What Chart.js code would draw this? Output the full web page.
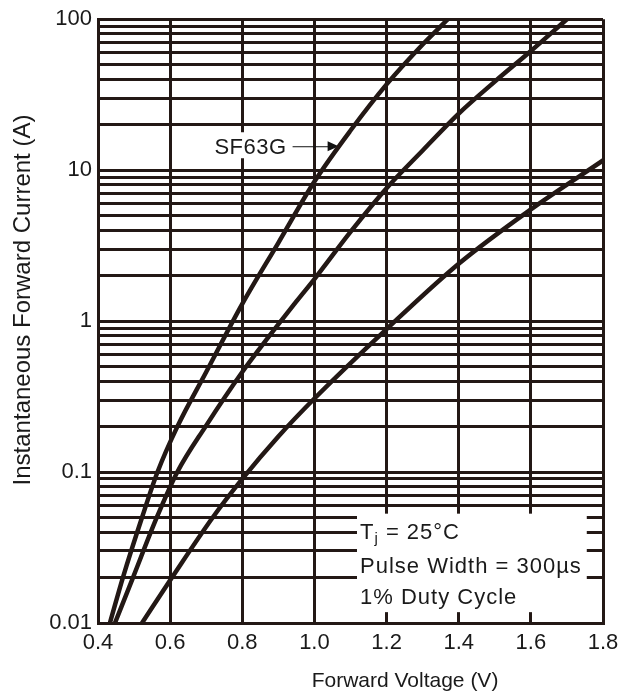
<!DOCTYPE html>
<html>
<head>
<meta charset="utf-8">
<script src="https://cdn.jsdelivr.net/npm/chart.js@4/dist/chart.umd.min.js"></script>
<style>
  html, body { margin: 0; padding: 0; background: #fff; }
  #wrap { width: 632px; height: 696px; }
</style>
</head>
<body>
<div id="wrap"><canvas id="vf-chart" width="632" height="696"></canvas></div>
<script>
// forward voltage (V) / instantaneous forward current (A)
var sf63gV = [0.433, 0.469, 0.522, 0.565, 0.620, 0.70, 0.80, 0.90, 1.00, 1.10, 1.20, 1.30, 1.37];
var sf63gI = [0.01, 0.02, 0.05, 0.1, 0.2, 0.46, 1.3, 3.3, 8.4, 18.3, 37, 68, 100];

var midV = [0.447, 0.497, 0.563, 0.620, 0.698, 0.80, 0.95, 1.00, 1.10, 1.20, 1.30, 1.40, 1.50, 1.60, 1.70];
var midI = [0.01, 0.02, 0.05, 0.1, 0.2, 0.46, 1.35, 1.9, 3.9, 7.6, 13.5, 23.7, 38.6, 61.6, 100];

var rightV = [0.522, 0.605, 0.718, 0.80, 0.90, 1.00, 1.20, 1.40, 1.60, 1.80];
var rightI = [0.01, 0.02, 0.05, 0.09, 0.172, 0.307, 0.885, 2.4, 5.5, 11.6];

var xTicks = [0.4, 0.6, 0.8, 1.0, 1.2, 1.4, 1.6, 1.8];
var xTickLabels = ['0.4', '0.6', '0.8', '1.0', '1.2', '1.4', '1.6', '1.8'];
var yDecades = [0.01, 0.1, 1, 10, 100];
var yTickLabels = ['0.01', '0.1', '1', '10', '100'];
var gridSteps = [1, 2, 3, 4, 5, 6, 7, 8, 9];

var ink = '#231815';
var fontFamily = '"Liberation Sans", Arial, Helvetica, sans-serif';

function toPoints(vs, is) {
    return vs.map(function (v, i) { return { x: v, y: is[i] }; });
}

// every 1..9 step of each decade gets a grid line
var yGrid = [];
yDecades.slice(0, -1).forEach(function (d) {
    gridSteps.forEach(function (s) { yGrid.push(+(d * s).toPrecision(3)); });
});
yGrid.push(yDecades[yDecades.length - 1]);

function curve(vs, is) {
    return {
        data: toPoints(vs, is),
        borderColor: ink,
        borderWidth: 4.5,
        pointRadius: 0,
        fill: false,
        cubicInterpolationMode: 'monotone',
        borderCapStyle: 'round'
    };
}

var notes = {
    id: 'notes',
    beforeDatasetsDraw: function (chart) {
        var ctx = chart.ctx, x = chart.scales.x, y = chart.scales.y;
        // test condition box, bottom right
        var l = x.getPixelForValue(1.118), r = x.getPixelForValue(1.755);
        var t = y.getPixelForValue(0.053), b = y.getPixelForValue(0.0118);
        ctx.save();
        ctx.fillStyle = '#fff';
        ctx.fillRect(l, t, r - l, b - t);
        ctx.fillStyle = '#1a1a1a';
        ctx.textAlign = 'left';
        ctx.textBaseline = 'middle';
        ctx.letterSpacing = '1px';
        ctx.font = '22px ' + fontFamily;
        var tx = l + 3;
        ctx.fillText('T', tx, t + 19);
        tx += ctx.measureText('T').width;
        ctx.font = '15px ' + fontFamily;
        ctx.fillText('j', tx, t + 25);
        tx += ctx.measureText('j').width;
        ctx.font = '22px ' + fontFamily;
        ctx.fillText(' = 25°C', tx, t + 19);
        ctx.fillText('Pulse Width = 300µs', l + 3, t + 53);
        ctx.fillText('1% Duty Cycle', l + 3, t + 84);

        // SF63G pointer
        var ax = x.getPixelForValue(1.067), ay = y.getPixelForValue(14.4);
        ctx.font = '22px ' + fontFamily;
        ctx.letterSpacing = '0.5px';
        var w = ctx.measureText('SF63G').width;
        ctx.fillStyle = '#fff';
        ctx.fillRect(ax - 56 - w, ay - 14, w + 6, 26);
        ctx.fillStyle = '#1a1a1a';
        ctx.textAlign = 'right';
        ctx.fillText('SF63G', ax - 52, ay + 2);
        ctx.strokeStyle = '#111';
        ctx.lineWidth = 1;
        ctx.beginPath();
        ctx.moveTo(ax - 46, ay + 0.5);
        ctx.lineTo(ax - 8, ay + 0.5);
        ctx.stroke();
        ctx.beginPath();
        ctx.moveTo(ax, ay);
        ctx.lineTo(ax - 11, ay - 5);
        ctx.lineTo(ax - 11, ay + 5);
        ctx.closePath();
        ctx.fillStyle = '#111';
        ctx.fill();
        ctx.restore();
    },
    afterDraw: function (chart) {
        var ctx = chart.ctx;
        ctx.save();
        ctx.fillStyle = '#1a1a1a';
        ctx.textAlign = 'center';
        ctx.textBaseline = 'middle';
        ctx.font = '21px ' + fontFamily;
        ctx.fillText('Forward Voltage (V)', 405, 681);
        ctx.translate(23, 300);
        ctx.rotate(-Math.PI / 2);
        ctx.font = '24px ' + fontFamily;
        ctx.fillText('Instantaneous Forward Current (A)', 0, 0);
        ctx.restore();
    }
};

var vfContext = document.getElementById('vf-chart').getContext('2d');
var vfChart = new Chart(vfContext, {
    type: 'line',
    data: {
        datasets: [
            curve(sf63gV, sf63gI),
            curve(midV, midI),
            curve(rightV, rightI)
        ]
    },
    options: {
        responsive: false,
        animation: false,
        events: [],
        layout: { padding: { top: 15, right: 29, left: 0, bottom: 0 } },
        plugins: {
            legend: { display: false },
            tooltip: { enabled: false }
        },
        scales: {
            x: {
                type: 'linear',
                min: 0.4,
                max: 1.8,
                afterBuildTicks: function (scale) {
                    scale.ticks = xTicks.map(function (v) { return { value: v }; });
                },
                afterFit: function (scale) { scale.height = 73; },
                ticks: {
                    autoSkip: false,
                    maxRotation: 0,
                    padding: 7,
                    color: '#1a1a1a',
                    font: { family: fontFamily, size: 22 },
                    callback: function (value, index) { return xTickLabels[index]; }
                },
                grid: { color: ink, lineWidth: 3, drawTicks: false },
                border: { color: ink, width: 3 }
            },
            y: {
                type: 'logarithmic',
                min: 0.01,
                max: 100,
                afterBuildTicks: function (scale) {
                    scale.ticks = yGrid.map(function (v) { return { value: v }; });
                },
                afterFit: function (scale) { scale.width = 98; },
                ticks: {
                    autoSkip: false,
                    padding: 6,
                    color: '#1a1a1a',
                    font: { family: fontFamily, size: 22 },
                    callback: function (value) {
                        var k = yDecades.indexOf(value);
                        return k < 0 ? '' : yTickLabels[k];
                    }
                },
                grid: { color: ink, lineWidth: 3, drawTicks: false },
                border: { color: ink, width: 3 }
            }
        }
    },
    plugins: [notes]
});
</script>
</body>
</html>
